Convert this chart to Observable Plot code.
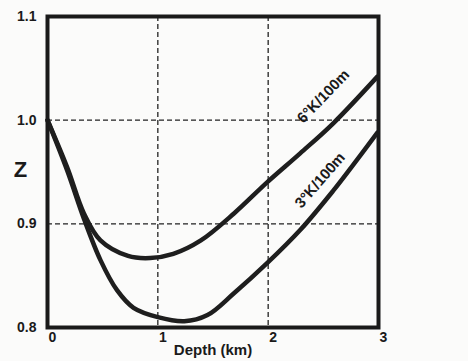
<!DOCTYPE html>
<html>
<head>
<meta charset="utf-8">
<script src="https://cdn.jsdelivr.net/npm/d3@7"></script>
<script src="https://cdn.jsdelivr.net/npm/@observablehq/plot@0.6"></script>
<style>
  html, body { margin: 0; padding: 0; background: #fbfbfa; }
  svg { display: block; }
</style>
</head>
<body>
<div id="chart"></div>
<script>
// Data
const depth6 = [0, 0.18, 0.33, 0.48, 0.73, 0.93, 1.14, 1.39, 1.69, 1.99, 2.29, 2.59, 2.99];
const z6     = [1.0, 0.954, 0.910, 0.884, 0.869, 0.867, 0.871, 0.884, 0.910, 0.940, 0.968, 0.997, 1.042];
const depth3 = [0, 0.18, 0.33, 0.48, 0.63, 0.78, 1.0, 1.24, 1.45, 1.69, 1.99, 2.29, 2.59, 2.75, 2.99];
const z3     = [1.0, 0.951, 0.905, 0.865, 0.836, 0.819, 0.810, 0.806, 0.812, 0.833, 0.862, 0.894, 0.932, 0.954, 0.988];
const seriesLabels = ["6°K/100m", "3°K/100m"];
const labelDepth = [2.50, 2.47];
const labelZ = [1.023, 0.942];
const labelAngle = [-46, -49];
const xTicks = [0, 1, 2, 3];
const yTicks = [0.8, 0.9, 1.0, 1.1];
const gridX = [1, 2];
const gridY = [0.9, 1.0];

const lines = [
  ...depth6.map((d, i) => ({series: seriesLabels[0], depth: d, z: z6[i]})),
  ...depth3.map((d, i) => ({series: seriesLabels[1], depth: d, z: z3[i]}))
];
const labels = seriesLabels.map((s, i) => ({text: s, depth: labelDepth[i], z: labelZ[i], angle: labelAngle[i]}));

const font = "'Liberation Sans', Arial, sans-serif";
const chart = Plot.plot({
  width: 468,
  height: 361,
  marginLeft: 47,
  marginRight: 90,
  marginTop: 16,
  marginBottom: 34,
  style: {fontFamily: font, fontWeight: "bold", fontSize: "14px", background: "transparent", color: "#1a1a1a"},
  x: {domain: [0, 3]},
  y: {domain: [0.8, 1.1]},
  marks: [
    Plot.ruleX(gridX, {stroke: "#222", strokeWidth: 1.3, strokeDasharray: "5,3"}),
    Plot.ruleY(gridY, {stroke: "#222", strokeWidth: 1.3, strokeDasharray: "5,3"}),
    Plot.line(lines, {x: "depth", y: "z", z: "series", curve: "catmull-rom", stroke: "#1e1e1e", strokeWidth: 4.5}),
    Plot.frame({stroke: "#1a1a1a", strokeWidth: 4}),
    Plot.axisX({ticks: xTicks, tickSize: 0, tickPadding: 5, dx: 5, tickFormat: d3.format("d"), label: null, fontSize: 14, fontWeight: "bold"}),
    Plot.axisY({ticks: yTicks, tickSize: 0, tickPadding: 11, tickFormat: d3.format(".1f"), label: null, fontSize: 14, fontWeight: "bold"}),
    Plot.text(["Depth (km)"], {frameAnchor: "bottom", dy: 27, fontSize: 15, fontWeight: "bold"}),
    Plot.text(["Z"], {frameAnchor: "left", textAnchor: "middle", dx: -27, dy: -2, fontSize: 22, fontWeight: "bold"}),
    Plot.text(labels, {x: "depth", y: "z", text: "text", rotate: (d) => d.angle, fontSize: 15, fontWeight: "bold", fill: "#1a1a1a"})
  ]
});
document.getElementById("chart").append(chart);
</script>
</body>
</html>
